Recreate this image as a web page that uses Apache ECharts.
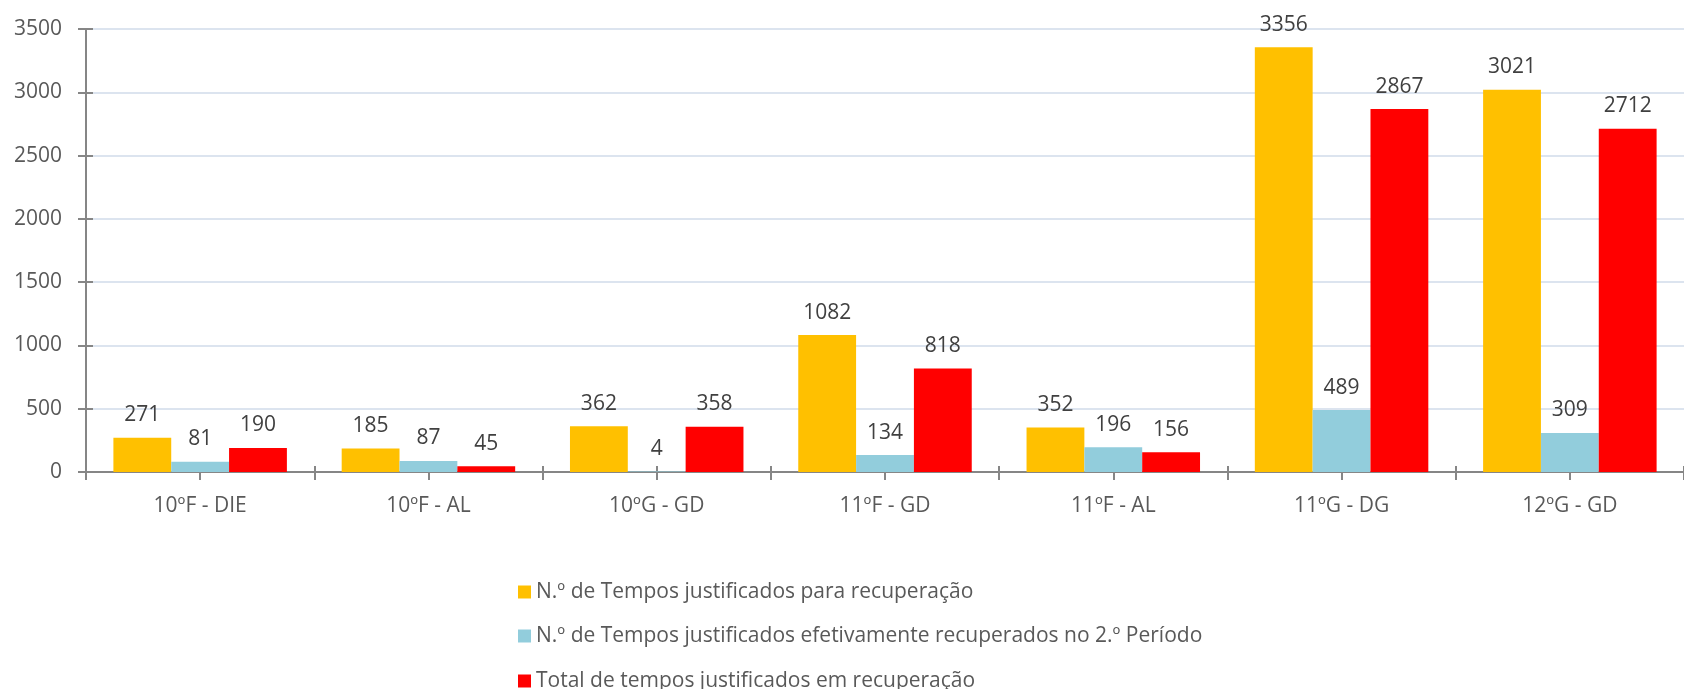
<!DOCTYPE html>
<html>
<head>
<meta charset="utf-8">
<script src="https://cdn.jsdelivr.net/npm/echarts@6/dist/echarts.min.js"></script>
<style>
  html, body { margin: 0; padding: 0; background: #fff; }
  #main { width: 1684px; height: 689px; }
</style>
</head>
<body>
<div id="main"></div>
<script>
// categories on the x axis
var turmas = ['10ºF - DIE', '10ºF - AL', '10ºG - GD', '11ºF - GD', '11ºF - AL', '11ºG - DG', '12ºG - GD'];

// series values
var paraRecuperacao = [271, 185, 362, 1082, 352, 3356, 3021];
var recuperados2P = [81, 87, 4, 134, 196, 489, 309];
var totalEmRecuperacao = [190, 45, 358, 818, 156, 2867, 2712];

var seriesNames = [
    'N.º de Tempos justificados para recuperação',
    'N.º de Tempos justificados efetivamente recuperados no 2.º Período',
    'Total de tempos justificados em recuperação'
];

var chartDom = document.getElementById('main');
var myChart = echarts.init(chartDom);

var fontFam = '"Open Sans", "Noto Sans", sans-serif';
var axisGray = '#868686';
var fs = 21;

// half-category ticks (Excel draws a tick at each boundary and each middle)
var halfTicks = [];
for (var i = 0; i < turmas.length * 2; i++) halfTicks.push('');

function barLabel() {
    return {
        show: true,
        position: 'top',
        distance: 12,
        color: '#404040',
        fontSize: fs,
        fontFamily: fontFam
    };
}

// one legend per row so they stack even past the bottom edge
function legendRow(name, top) {
    return {
        orient: 'vertical',
        left: 513,
        top: top,
        itemWidth: 13,
        itemHeight: 13,
        icon: 'rect',
        textStyle: {
            color: '#595959',
            fontSize: fs,
            fontFamily: fontFam,
            lineHeight: 22,
            padding: [0, 0, 0, 0]
        },
        data: [name]
    };
}

var option = {
    animation: false,
    grid: {
        left: 86,
        top: 29,
        width: 1613,
        height: 443
    },
    legend: [
        legendRow(seriesNames[0], 576),
        legendRow(seriesNames[1], 620),
        legendRow(seriesNames[2], 665)
    ],
    xAxis: [
        {
            type: 'category',
            data: turmas,
            axisLine: { lineStyle: { color: axisGray, width: 2 } },
            axisTick: { show: false },
            axisLabel: {
                color: '#595959',
                fontSize: fs,
                fontFamily: fontFam,
                margin: 24
            }
        },
        {
            type: 'category',
            data: halfTicks,
            position: 'bottom',
            axisLine: { show: false },
            axisLabel: { show: false },
            axisTick: { show: true, length: 8, lineStyle: { color: axisGray, width: 2 } }
        },
        {
            type: 'category',
            data: halfTicks,
            position: 'bottom',
            axisLine: { show: false },
            axisLabel: { show: false },
            axisTick: { show: true, inside: true, length: 6, lineStyle: { color: axisGray, width: 2 } }
        }
    ],
    yAxis: [
        {
            type: 'value',
            min: 0,
            max: 3500,
            interval: 500,
            axisLine: { show: true, lineStyle: { color: axisGray, width: 2 } },
            axisTick: { show: true, length: 8, lineStyle: { color: axisGray, width: 2 } },
            axisLabel: {
                color: '#595959',
                fontSize: fs,
                fontFamily: fontFam,
                margin: 24,
                formatter: function (v) { return String(v); }
            },
            splitLine: { lineStyle: { color: '#DCE4EF', width: 2 } }
        },
        {
            type: 'value',
            min: 0,
            max: 3500,
            interval: 500,
            position: 'left',
            axisLine: { show: false },
            axisLabel: { show: false },
            splitLine: { show: false },
            axisTick: { show: true, inside: true, length: 7, lineStyle: { color: axisGray, width: 2 } }
        }
    ],
    series: [
        {
            name: seriesNames[0],
            type: 'bar',
            data: paraRecuperacao,
            barGap: '0%',
            barCategoryGap: '24%',
            itemStyle: { color: '#FFC000' },
            label: barLabel()
        },
        {
            name: seriesNames[1],
            type: 'bar',
            data: recuperados2P,
            barGap: '0%',
            barCategoryGap: '24%',
            itemStyle: { color: '#92CDDC' },
            label: barLabel()
        },
        {
            name: seriesNames[2],
            type: 'bar',
            data: totalEmRecuperacao,
            barGap: '0%',
            barCategoryGap: '24%',
            itemStyle: { color: '#FF0000' },
            label: barLabel()
        }
    ]
};

myChart.setOption(option);
</script>
</body>
</html>
